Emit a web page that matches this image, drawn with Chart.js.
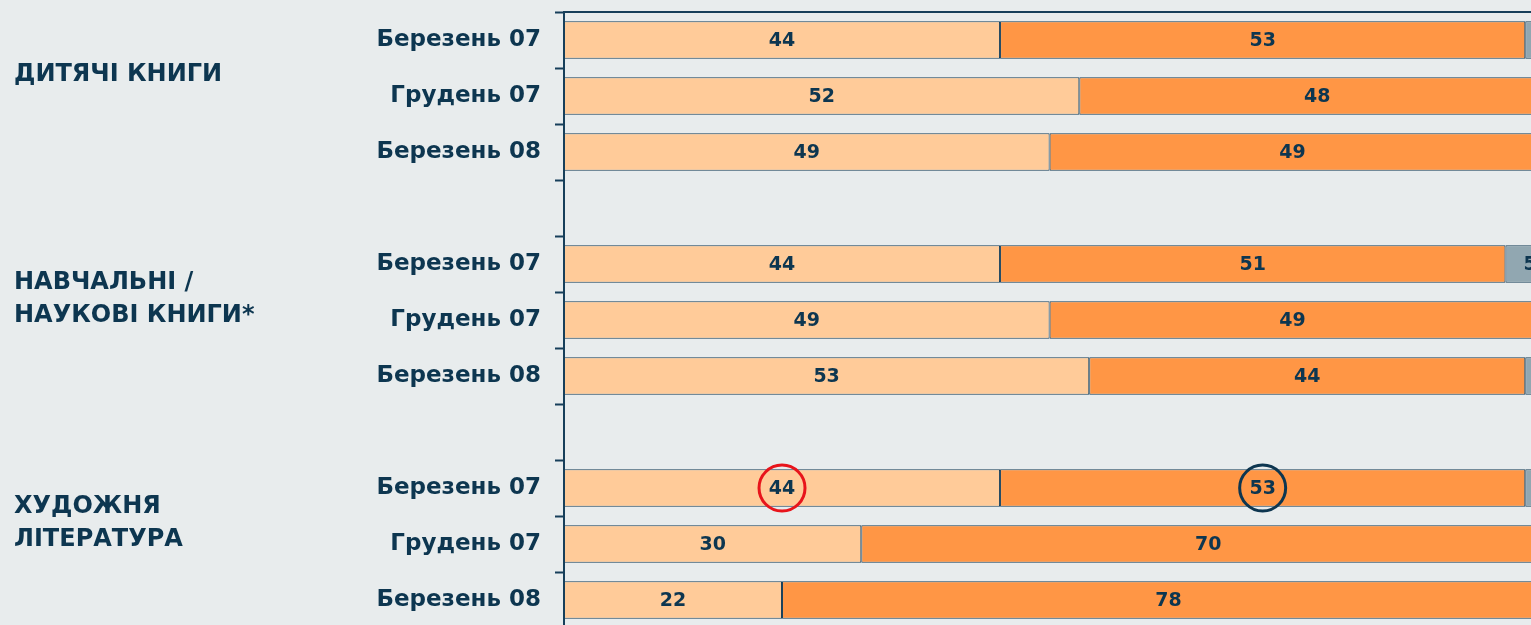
<!DOCTYPE html>
<html>
<head>
<meta charset="utf-8">
<script src="https://cdn.jsdelivr.net/npm/chart.js@4"></script>
<style>
  html, body { margin: 0; padding: 0; background: #E8ECED; overflow: hidden; }
  #wrap { width: 1600px; height: 640px; position: relative; }
</style>
</head>
<body>
<div id="wrap"><canvas id="barChart"></canvas></div>
<script>
// категорії (порожні рядки - проміжки між групами)
var labels = ['Березень 07', 'Грудень 07', 'Березень 08', '',
              'Березень 07', 'Грудень 07', 'Березень 08', '',
              'Березень 07', 'Грудень 07', 'Березень 08'];

var series1 = [44, 52, 49, null, 44, 49, 53, null, 44, 30, 22];
var series2 = [53, 48, 49, null, 51, 49, 44, null, 53, 70, 78];
var series3 = [3, 0, 2, null, 5, 2, 3, null, 3, 0, 0];

// назви груп: [перший рядок групи, рядки тексту]
var groupNames = [
    [0, ['ДИТЯЧІ КНИГИ']],
    [4, ['НАВЧАЛЬНІ /', 'НАУКОВІ КНИГИ*']],
    [8, ['ХУДОЖНЯ', 'ЛІТЕРАТУРА']]
];

var navy = '#0D3650';
var edge = '#173F5A';

// підписи значень всередині смуг
var valueLabels = {
    id: 'valueLabels',
    afterDatasetsDraw: function (chart) {
        var ctx = chart.ctx;
        ctx.save();
        ctx.font = 'bold 19px "DejaVu Sans"';
        ctx.fillStyle = navy;
        ctx.textAlign = 'center';
        ctx.textBaseline = 'middle';
        chart.data.datasets.forEach(function (ds, i) {
            chart.getDatasetMeta(i).data.forEach(function (bar, j) {
                var v = ds.data[j];
                if (!v) return;
                ctx.fillText(v, (bar.x + bar.base) / 2, bar.y + 1);
            });
        });
        ctx.restore();
    }
};

// назви груп, верхня лінія, кружечки
var extras = {
    id: 'extras',
    afterDraw: function (chart) {
        var ctx = chart.ctx;
        var y = chart.scales.y;
        var area = chart.chartArea;
        ctx.save();
        // верхня лінія
        ctx.strokeStyle = edge;
        ctx.lineWidth = 2;
        ctx.beginPath();
        ctx.moveTo(area.left, area.top);
        ctx.lineTo(area.right + 60, area.top);
        ctx.stroke();

        ctx.font = 'bold 24px "DejaVu Sans"';
        ctx.fillStyle = navy;
        ctx.textAlign = 'left';
        ctx.textBaseline = 'middle';
        groupNames.forEach(function (g) {
            var mid = (y.getPixelForValue(g[0]) + y.getPixelForValue(g[0] + 1)) / 2 + 7;
            var lines = g[1];
            var lh = 33;
            var top = mid - (lines.length - 1) * lh / 2;
            lines.forEach(function (t, k) {
                ctx.fillText(t, 14, top + k * lh);
            });
        });

        // кружечки навколо значень
        var rings = [[0, 8, '#E8141B'], [1, 8, navy]];
        rings.forEach(function (r) {
            var bar = chart.getDatasetMeta(r[0]).data[r[1]];
            ctx.strokeStyle = r[2];
            ctx.lineWidth = 3;
            ctx.beginPath();
            ctx.arc((bar.x + bar.base) / 2, bar.y, 23, 0, Math.PI * 2);
            ctx.stroke();
        });
        ctx.restore();
    }
};

var data = {
    labels: labels,
    datasets: [{
        label: 'A',
        data: series1,
        backgroundColor: '#FFCB99',
    }, {
        label: 'B',
        data: series2,
        backgroundColor: '#FF9645',
    }, {
        label: 'C',
        data: series3,
        backgroundColor: '#91A7B1',
    }]
};

data.datasets.forEach(function (ds) {
    ds.borderColor = edge;
    ds.borderWidth = 1;
    ds.borderSkipped = false;
    ds.categoryPercentage = 1;
    ds.barPercentage = 0.67;
});

var config = {
    type: 'bar',
    data: data,
    options: {
        indexAxis: 'y',
        responsive: true,
        maintainAspectRatio: false,
        animation: false,
        layout: { padding: { top: 12, bottom: 12, left: 0, right: 45 } },
        plugins: { legend: { display: false }, tooltip: { enabled: false } },
        scales: {
            x: {
                stacked: true,
                min: 0,
                max: 100,
                display: false
            },
            y: {
                stacked: true,
                afterFit: function (scale) {
                    scale.width = 564;
                    scale.paddingTop = 0;
                    scale.paddingBottom = 0;
                },
                grid: {
                    drawOnChartArea: false,
                    tickLength: 9,
                    tickWidth: 2,
                    tickColor: edge
                },
                border: { color: edge, width: 2 },
                ticks: {
                    padding: 14,
                    color: navy,
                    font: { family: '"DejaVu Sans"', weight: 'bold', size: 23 }
                }
            }
        }
    },
    plugins: [valueLabels, extras]
};

var barChart = new Chart(document.getElementById('barChart'), config);
</script>
</body>
</html>
